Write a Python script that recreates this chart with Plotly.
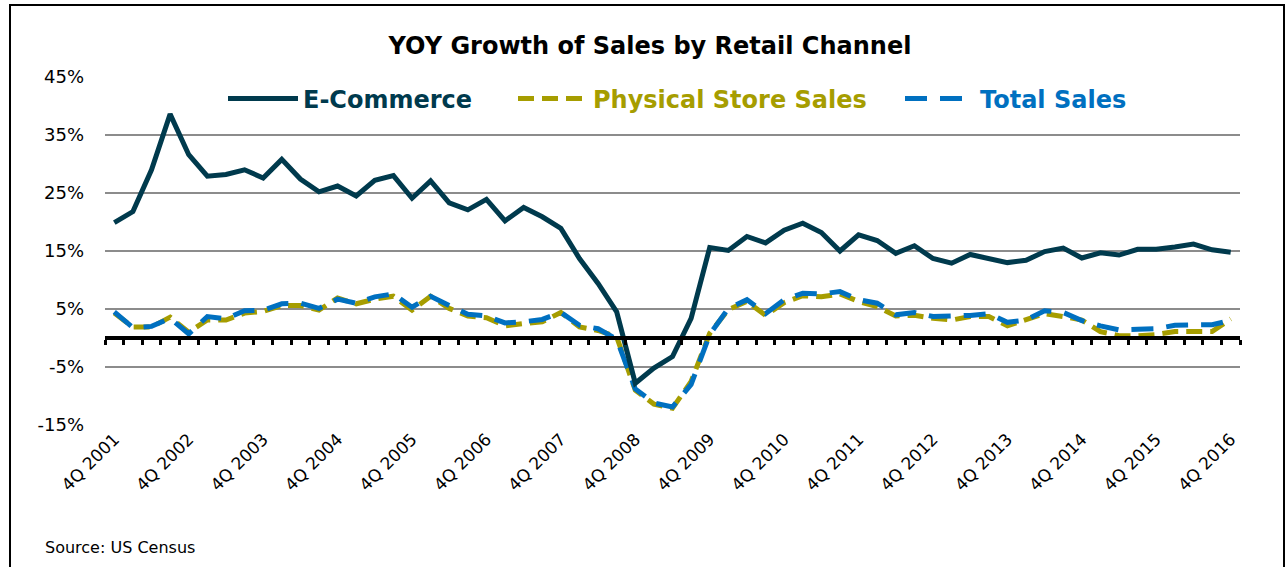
import plotly.graph_objects as go

quarters = ["4Q 2001"] + [f"{q}Q {y}" for y in range(2002, 2017) for q in (1, 2, 3, 4)]

ecommerce = [19.9, 21.8, 29.0, 38.6, 31.6, 27.9, 28.2, 29.0, 27.6, 30.8,
             27.4, 25.2, 26.2, 24.5, 27.2, 28.0, 24.1, 27.1, 23.3, 22.1,
             23.9, 20.2, 22.5, 20.9, 18.9, 13.7, 9.4, 4.5, -7.8, -5.2,
             -3.2, 3.4, 15.6, 15.1, 17.5, 16.4, 18.6, 19.8, 18.2, 15.0,
             17.8, 16.8, 14.6, 15.9, 13.7, 12.9, 14.4, 13.6, 13.0, 13.4,
             14.9, 15.5, 13.8, 14.7, 14.3, 15.3, 15.3, 15.7, 16.2, 15.2,
             14.8]

physical = [4.3, 1.9, 1.9, 3.6, 1.0, 3.1, 3.1, 4.3, 4.6, 5.6,
            5.6, 4.8, 6.9, 5.9, 6.7, 7.2, 4.8, 7.2, 5.1, 3.8,
            3.5, 2.1, 2.5, 2.8, 4.4, 1.9, 1.3, 0.2, -9.0, -11.4,
            -12.1, -7.5, 0.8, 4.9, 6.3, 3.9, 6.1, 7.3, 7.1, 7.6,
            6.3, 5.4, 3.8, 3.9, 3.4, 3.1, 3.7, 3.7, 2.1, 3.2,
            4.2, 3.7, 3.1, 1.1, 0.4, 0.4, 0.6, 1.1, 1.1, 1.1,
            3.3]

total = [4.5, 1.8, 2.0, 3.4, 0.7, 3.7, 3.3, 4.7, 4.8, 5.9,
         6.0, 5.1, 6.7, 6.0, 7.1, 7.6, 5.3, 7.2, 5.6, 4.1,
         3.8, 2.6, 2.8, 3.2, 4.4, 2.2, 1.6, -0.2, -8.8, -11.2,
         -11.9, -8.0, 0.6, 5.1, 6.6, 4.2, 6.6, 7.7, 7.6, 8.0,
         6.6, 6.0, 4.0, 4.4, 3.7, 3.7, 3.9, 4.2, 2.7, 3.1,
         4.7, 4.4, 3.0, 2.1, 1.4, 1.5, 1.6, 2.2, 2.2, 2.3,
         3.0]

label_quarters = quarters[::4]
y_ticks = [45, 35, 25, 15, 5, -5, -15]
y_tick_text = ["45%", "35%", "25%", "15%", "5%", "-5%", "-15%"]

C_ECOM = "#003A4D"
C_PHYS = "#A69D00"
C_TOTAL = "#0070C0"
FONT = "DejaVu Sans"

fig = go.Figure()

fig.add_trace(go.Scatter(
    x=quarters, y=physical, mode="lines",
    name=f'<b><span style="color:{C_PHYS}">Physical Store Sales</span></b>',
    line=dict(color=C_PHYS, width=5, dash="16px,8px"),
    legendrank=2, legendwidth=302, hoverinfo="skip"))

fig.add_trace(go.Scatter(
    x=quarters, y=total, mode="lines",
    name=f'<b><span style="color:{C_TOTAL}">Total Sales</span></b>',
    line=dict(color=C_TOTAL, width=5, dash="22px,13px"),
    legendrank=3, hoverinfo="skip"))

fig.add_trace(go.Scatter(
    x=quarters, y=ecommerce, mode="lines",
    name=f'<b><span style="color:{C_ECOM}">E-Commerce</span></b>',
    line=dict(color=C_ECOM, width=5),
    legendrank=1, legendwidth=205, hoverinfo="skip"))

# invisible trace to carry the zero-position axis with tick marks
fig.add_trace(go.Scatter(
    x=quarters, y=ecommerce, mode="lines", xaxis="x2",
    line=dict(width=0, color="rgba(0,0,0,0)"),
    showlegend=False, hoverinfo="skip"))

n = len(quarters)
ymin, ymax = -15, 45
zero_pos = (0 - ymin) / (ymax - ymin)

fig.update_layout(
    width=1285, height=567,
    margin=dict(l=105, r=45, t=77, b=142),
    paper_bgcolor="white", plot_bgcolor="white",
    font=dict(family=FONT, size=17, color="black"),
    title=dict(
        text="<b>YOY Growth of Sales by Retail Channel</b>",
        x=650 / 1285, xanchor="center", xref="container",
        y=1 - 46 / 567, yanchor="middle",
        font=dict(family=FONT, size=24, color="black")),
    showlegend=True,
    legend=dict(
        orientation="h", x=(223 - 105) / 1135, xanchor="left",
        y=(425 - 99) / 348, yanchor="middle",
        bgcolor="rgba(0,0,0,0)", itemwidth=70,
        font=dict(family=FONT, size=24),
        traceorder="normal"),
    xaxis=dict(
        type="category", range=[-0.5, n - 0.5],
        tickmode="array", tickvals=label_quarters, ticktext=label_quarters,
        tickangle=-45, ticks="", showgrid=False, showline=False, zeroline=False,
        tickfont=dict(family=FONT, size=17, color="black")),
    xaxis2=dict(
        type="category", matches="x", overlaying="x", anchor="free",
        position=zero_pos, side="bottom",
        range=[-0.5, n - 0.5], tickmode="linear", dtick=1,
        tickson="boundaries", ticks="outside", ticklen=5, tickwidth=3,
        tickcolor="black", showline=True, linewidth=4, linecolor="black",
        showticklabels=False, showgrid=False, zeroline=False),
    yaxis=dict(
        range=[ymin, ymax], tickmode="array", tickvals=y_ticks,
        ticktext=y_tick_text, showgrid=True, gridcolor="#8C8C8C",
        gridwidth=2, zeroline=False, showline=False, ticks="",
        ticklabelstandoff=20,
        tickfont=dict(family=FONT, size=18, color="black")),
    shapes=[dict(
        type="rect", xref="paper", yref="paper",
        x0=(10 - 105) / 1135, x1=(1284 - 105) / 1135,
        y0=(425 - 600) / 348, y1=(425 - 5) / 348,
        line=dict(color="black", width=2), fillcolor="rgba(0,0,0,0)",
        layer="above")],
    annotations=[dict(
        text="Source: US Census", xref="paper", yref="paper",
        x=(43 - 105) / 1135, y=(425 - 547) / 348,
        xanchor="left", yanchor="middle", showarrow=False,
        font=dict(family=FONT, size=16, color="black"))],
)

fig.write_html("out.html", config={"displayModeBar": False},
               post_script="document.body.style.margin='0px';")
